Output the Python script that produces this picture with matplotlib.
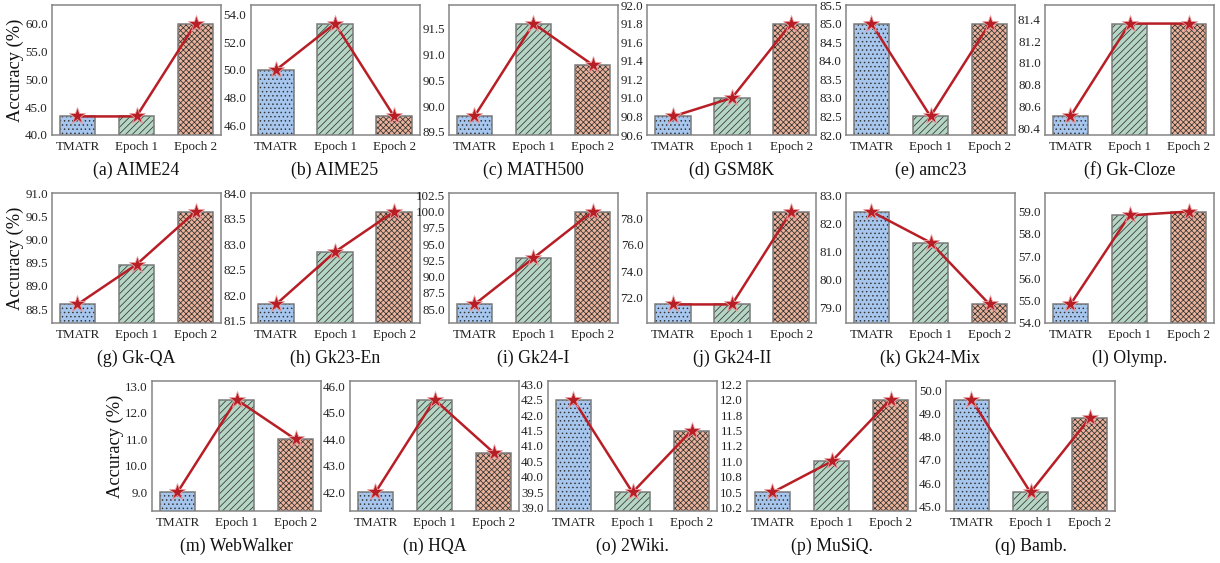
import matplotlib
matplotlib.use("Agg")
import matplotlib.pyplot as plt
from matplotlib.ticker import MaxNLocator, FormatStrFormatter

plt.rcParams['font.family'] = ['Liberation Serif', 'DejaVu Serif']
plt.rcParams['hatch.linewidth'] = 0.55

categories = ["TMATR", "Epoch 1", "Epoch 2"]

titles = ["(a) AIME24", "(b) AIME25", "(c) MATH500", "(d) GSM8K", "(e) amc23", "(f) Gk-Cloze",
          "(g) Gk-QA", "(h) Gk23-En", "(i) Gk24-I", "(j) Gk24-II", "(k) Gk24-Mix", "(l) Olymp.",
          "(m) WebWalker", "(n) HQA", "(o) 2Wiki.", "(p) MuSiQ.", "(q) Bamb."]

aime24 = [43.33, 43.33, 60.0]
aime25 = [50.0, 53.33, 46.67]
math500 = [89.8, 91.6, 90.8]
gsm8k = [90.8, 91.0, 91.8]
amc23 = [85.0, 82.5, 85.0]
gk_cloze = [80.51, 81.36, 81.36]
gk_qa = [88.6, 89.46, 90.6]
gk23_en = [81.82, 82.85, 83.64]
gk24_i = [85.71, 92.86, 100.0]
gk24_ii = [71.43, 71.43, 78.57]
gk24_mix = [82.42, 81.32, 79.12]
olymp = [54.83, 58.83, 59.0]
webwalker = [9.0, 12.5, 11.0]
hqa = [42.0, 45.5, 43.5]
wiki2 = [42.5, 39.5, 41.5]
musiq = [10.5, 11.0, 12.0]
bamb = [49.6, 45.6, 48.8]

series = [aime24, aime25, math500, gsm8k, amc23, gk_cloze,
          gk_qa, gk23_en, gk24_i, gk24_ii, gk24_mix, olymp,
          webwalker, hqa, wiki2, musiq, bamb]

face_colors = ['#a6c6ee', '#b6d6c5', '#ecb49b']
hatches = ['....', '/////', 'xxxxxx']
line_color = '#b81e26'

W, H = 1220, 563
fig = plt.figure(figsize=(W / 100, H / 100), dpi=100)

row_tops = [5, 193, 381]
ax_h = 130
ax_w = 169
lefts_full = [52, 250.5, 449, 647.5, 846, 1045]
lefts_last = [152, 350, 548, 747, 946]

layout = []
for r in range(2):
    for l in lefts_full:
        layout.append((l, row_tops[r]))
for l in lefts_last:
    layout.append((l, row_tops[2]))

x = list(range(len(categories)))
for i, (vals, title) in enumerate(zip(series, titles)):
    l, t = layout[i]
    ax = fig.add_axes([l / W, 1 - (t + ax_h) / H, ax_w / W, ax_h / H])
    bars = ax.bar(x, vals, width=0.6, color=face_colors, edgecolor='#333333', linewidth=0, zorder=2)
    for b, h in zip(bars, hatches):
        b.set_hatch(h)
    ax.bar(x, vals, width=0.6, fill=False, edgecolor='#7a7a7a', linewidth=1.1, zorder=3)
    ax.plot(x, vals, color=line_color, lw=1.8, marker='*', ms=12.5,
            mec='#e9a3a3', mew=0.6, zorder=5)
    vmin, vmax = min(vals), max(vals)
    rng = vmax - vmin
    ax.set_ylim(vmin - 0.2 * rng, vmax + 0.2 * rng)
    ax.yaxis.set_major_locator(MaxNLocator(nbins=9, steps=[1, 2, 2.5, 5, 10]))
    ax.yaxis.set_major_formatter(FormatStrFormatter('%.1f'))
    ax.set_xticks(x)
    ax.set_xticklabels(categories)
    ax.tick_params(axis='both', length=0, labelsize=9.4, colors='#222222')
    ax.tick_params(axis='y', pad=3)
    ax.tick_params(axis='x', pad=4)
    for s in ax.spines.values():
        s.set_color('#858585')
        s.set_linewidth(1.1)
    ax.text(0.5, -0.27, title, transform=ax.transAxes, ha='center', va='center',
            fontsize=12.8, color='#111111')
    if i in (0, 6, 12):
        ax.set_ylabel("Accuracy (%)", fontsize=13.3, labelpad=1, color='#111111')

fig.savefig("out.png", dpi=100)
